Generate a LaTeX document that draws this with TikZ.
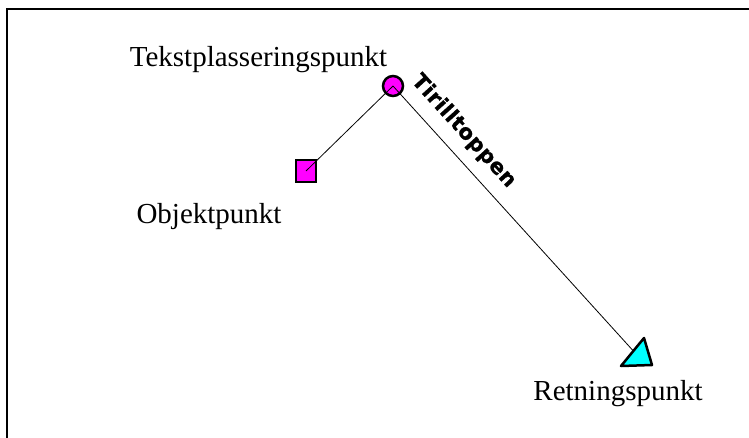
\documentclass[tikz,border=0pt]{standalone}
\usepackage{fontspec}
\setmainfont{Liberation Serif}
\newfontfamily\navnfont[LetterSpace=3,FakeBold=1.2]{DejaVu Sans Bold}
\definecolor{punktmagenta}{RGB}{255,0,255}
\definecolor{punktcyan}{RGB}{0,255,255}

\begin{document}
\begin{tikzpicture}[x=1pt,y=-1pt,
  etikett/.style={font=\fontsize{29}{34}\selectfont, inner sep=0pt, anchor=base},
  punkt/.style={draw=black, line width=2.5pt, fill=punktmagenta, inner sep=0pt}]
\useasboundingbox (0,0) rectangle (749,438);
% ramme
\draw[line width=2pt] (7,438) -- (7,9) -- (749,9);

% punkter
\node[punkt, circle, minimum size=20pt] (tekst) at (393,86) {};
\node[punkt, rectangle, minimum width=20pt, minimum height=22pt] (objekt) at (306,171) {};
\coordinate (retning) at (637,355);

% linjer mellom punktene
\draw[line width=0.8pt] (objekt.center) -- (tekst.center);
\draw[line width=0.8pt] (tekst.center) -- (retning)
  node[pos=0.223, sloped, yshift=22pt, inner sep=0pt] (navn) {\navnfont\fontsize{21}{25}\selectfont Tirilltoppen};

% retningspunkt
\filldraw[fill=punktcyan, line width=2.5pt, line join=round] (retning) ++(-16,11) -- ++(23,-28) -- ++(8,27) -- cycle;

% tekster
\node[etikett] (tekstlabel) at (258.5,66.5) {Tekstplasseringspunkt};
\node[etikett] (objektlabel) at (209,223.5) {Objektpunkt};
\node[etikett] (retninglabel) at (618,400) {Retningspunkt};

\end{tikzpicture}
\end{document}
